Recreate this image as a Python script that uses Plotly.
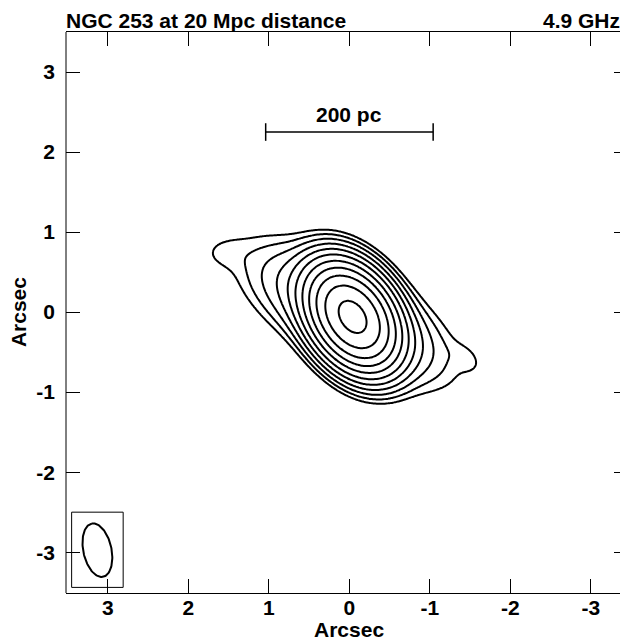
import numpy as np
import plotly.graph_objects as go

# ---------------- data ----------------
title_left = "NGC 253 at 20 Mpc distance"
title_right = "4.9 GHz"
axis_title = "Arcsec"
tick_values = [-3, -2, -1, 0, 1, 2, 3]
tick_labels = ["-3", "-2", "-1", "0", "1", "2", "3"]

# emission components (arcsec): centre x, centre y, relative amplitude,
# major / minor sigma, position angle (deg, from +y towards +x)
comp_x = [-0.04, 0.03, 1.56, -1.45]
comp_y = [-0.06, -0.02, 0.74, -0.58]
comp_amp = [1.0, 0.020, 0.0007, 0.0008]
comp_smaj = [0.31, 0.61, 0.22, 0.15]
comp_smin = [0.21, 0.265, 0.15, 0.10]
comp_pa = [33.0, 60.0, 90.0, 50.0]

# contour levels, percent of peak
contour_levels = [0.075, 0.15, 0.3, 0.6, 1.2, 2.4, 4.9, 9.8, 19.5, 39.0, 78.0]

# restoring beam (arcsec, deg) and its box
beam_x, beam_y = 3.13, -2.975
beam_a, beam_b, beam_pa = 0.34, 0.175, 12.0
beam_box_x = [3.45, 2.81]
beam_box_y = [-3.44, -2.50]

# scale bar
scalebar_label = "200 pc"
scalebar_x = [1.04, -1.04]
scalebar_y = 2.25

x_range = [3.52, -3.46]
y_range = [-3.51, 3.50]

# ---------------- build map ----------------
gx = np.linspace(-3.5, 3.5, 351)
gy = np.linspace(-3.5, 3.5, 351)
X, Y = np.meshgrid(gx, gy)
Z = np.zeros_like(X)
for cx, cy, a, sM, sm, pa in zip(comp_x, comp_y, comp_amp, comp_smaj, comp_smin, comp_pa):
    p = np.deg2rad(pa)
    dx, dy = X - cx, Y - cy
    u = dx * np.sin(p) + dy * np.cos(p)
    v = dx * np.cos(p) - dy * np.sin(p)
    Z += a * np.exp(-0.5 * ((u / sM) ** 2 + (v / sm) ** 2))
Z = 100.0 * Z / Z.max()

fig = go.Figure()
for lev in contour_levels:
    fig.add_trace(go.Contour(
        x=gx, y=gy, z=Z,
        contours=dict(coloring="lines", start=lev, end=lev, size=1),
        colorscale=[[0, "black"], [1, "black"]],
        showscale=False, line=dict(width=2, smoothing=1.0),
        hoverinfo="skip",
    ))

# beam ellipse
t = np.linspace(0, 2 * np.pi, 121)
p = np.deg2rad(beam_pa)
bx = beam_x + beam_a * np.cos(t) * np.sin(p) + beam_b * np.sin(t) * np.cos(p)
by = beam_y + beam_a * np.cos(t) * np.cos(p) - beam_b * np.sin(t) * np.sin(p)
fig.add_trace(go.Scatter(x=bx, y=by, mode="lines", line=dict(color="black", width=2),
                         hoverinfo="skip", showlegend=False))
# beam box
fig.add_trace(go.Scatter(
    x=[beam_box_x[0], beam_box_x[1], beam_box_x[1], beam_box_x[0], beam_box_x[0]],
    y=[beam_box_y[0], beam_box_y[0], beam_box_y[1], beam_box_y[1], beam_box_y[0]],
    mode="lines", line=dict(color="black", width=1), hoverinfo="skip", showlegend=False))

# scale bar
cap = 0.11
fig.add_trace(go.Scatter(
    x=[scalebar_x[0], scalebar_x[1], None, scalebar_x[0], scalebar_x[0], None, scalebar_x[1], scalebar_x[1]],
    y=[scalebar_y, scalebar_y, None, scalebar_y - cap, scalebar_y + cap, None, scalebar_y - cap, scalebar_y + cap],
    mode="lines", line=dict(color="black", width=1.5), hoverinfo="skip", showlegend=False))

font_b = dict(family="Liberation Sans", size=21, color="black", weight="bold")

fig.add_annotation(x=sum(scalebar_x) / 2, y=scalebar_y, xref="x", yref="y", text=scalebar_label,
                   showarrow=False, yanchor="bottom", yshift=4, font=font_b)
fig.add_annotation(x=0, y=1, xref="paper", yref="paper", text=title_left, showarrow=False,
                   xanchor="left", yanchor="bottom", yshift=-2, xshift=-2, font=font_b)
fig.add_annotation(x=1, y=1, xref="paper", yref="paper", text=title_right, showarrow=False,
                   xanchor="right", yanchor="bottom", yshift=-2, xshift=-6, font=font_b)
fig.add_annotation(x=0, y=0, xref="x", yref="paper", text=axis_title, showarrow=False,
                   xanchor="center", yanchor="top", yshift=-23, font=font_b)
fig.add_annotation(x=0, y=0, xref="paper", yref="y", text=axis_title, showarrow=False,
                   textangle=-90, xanchor="center", yanchor="middle", xshift=-48, font=font_b)

# frame line (left); top and bottom come from the x axis
fig.add_shape(type="line", xref="paper", yref="paper", x0=0, x1=0, y0=0, y1=1,
              line=dict(color="black", width=1))

axis_common = dict(
    ticks="inside", ticklen=14, tickwidth=1, tickcolor="black",
    tickvals=tick_values, ticktext=tick_labels, tickfont=font_b,
    showgrid=False, zeroline=False,
)
fig.update_xaxes(range=x_range, showline=True, linecolor="black", linewidth=1, mirror="ticks",
                 ticklabelstandoff=-4, **axis_common)
fig.update_yaxes(range=y_range, showline=False, mirror="ticks", ticklabelstandoff=10, **axis_common)

# page body has an 8px margin: the figure is sized to fill the rest of the window
fig.update_layout(
    width=620, height=632, margin=dict(l=58, r=0, t=24, b=47),
    plot_bgcolor="white", paper_bgcolor="white", showlegend=False,
)
fig.write_html("out.html")
